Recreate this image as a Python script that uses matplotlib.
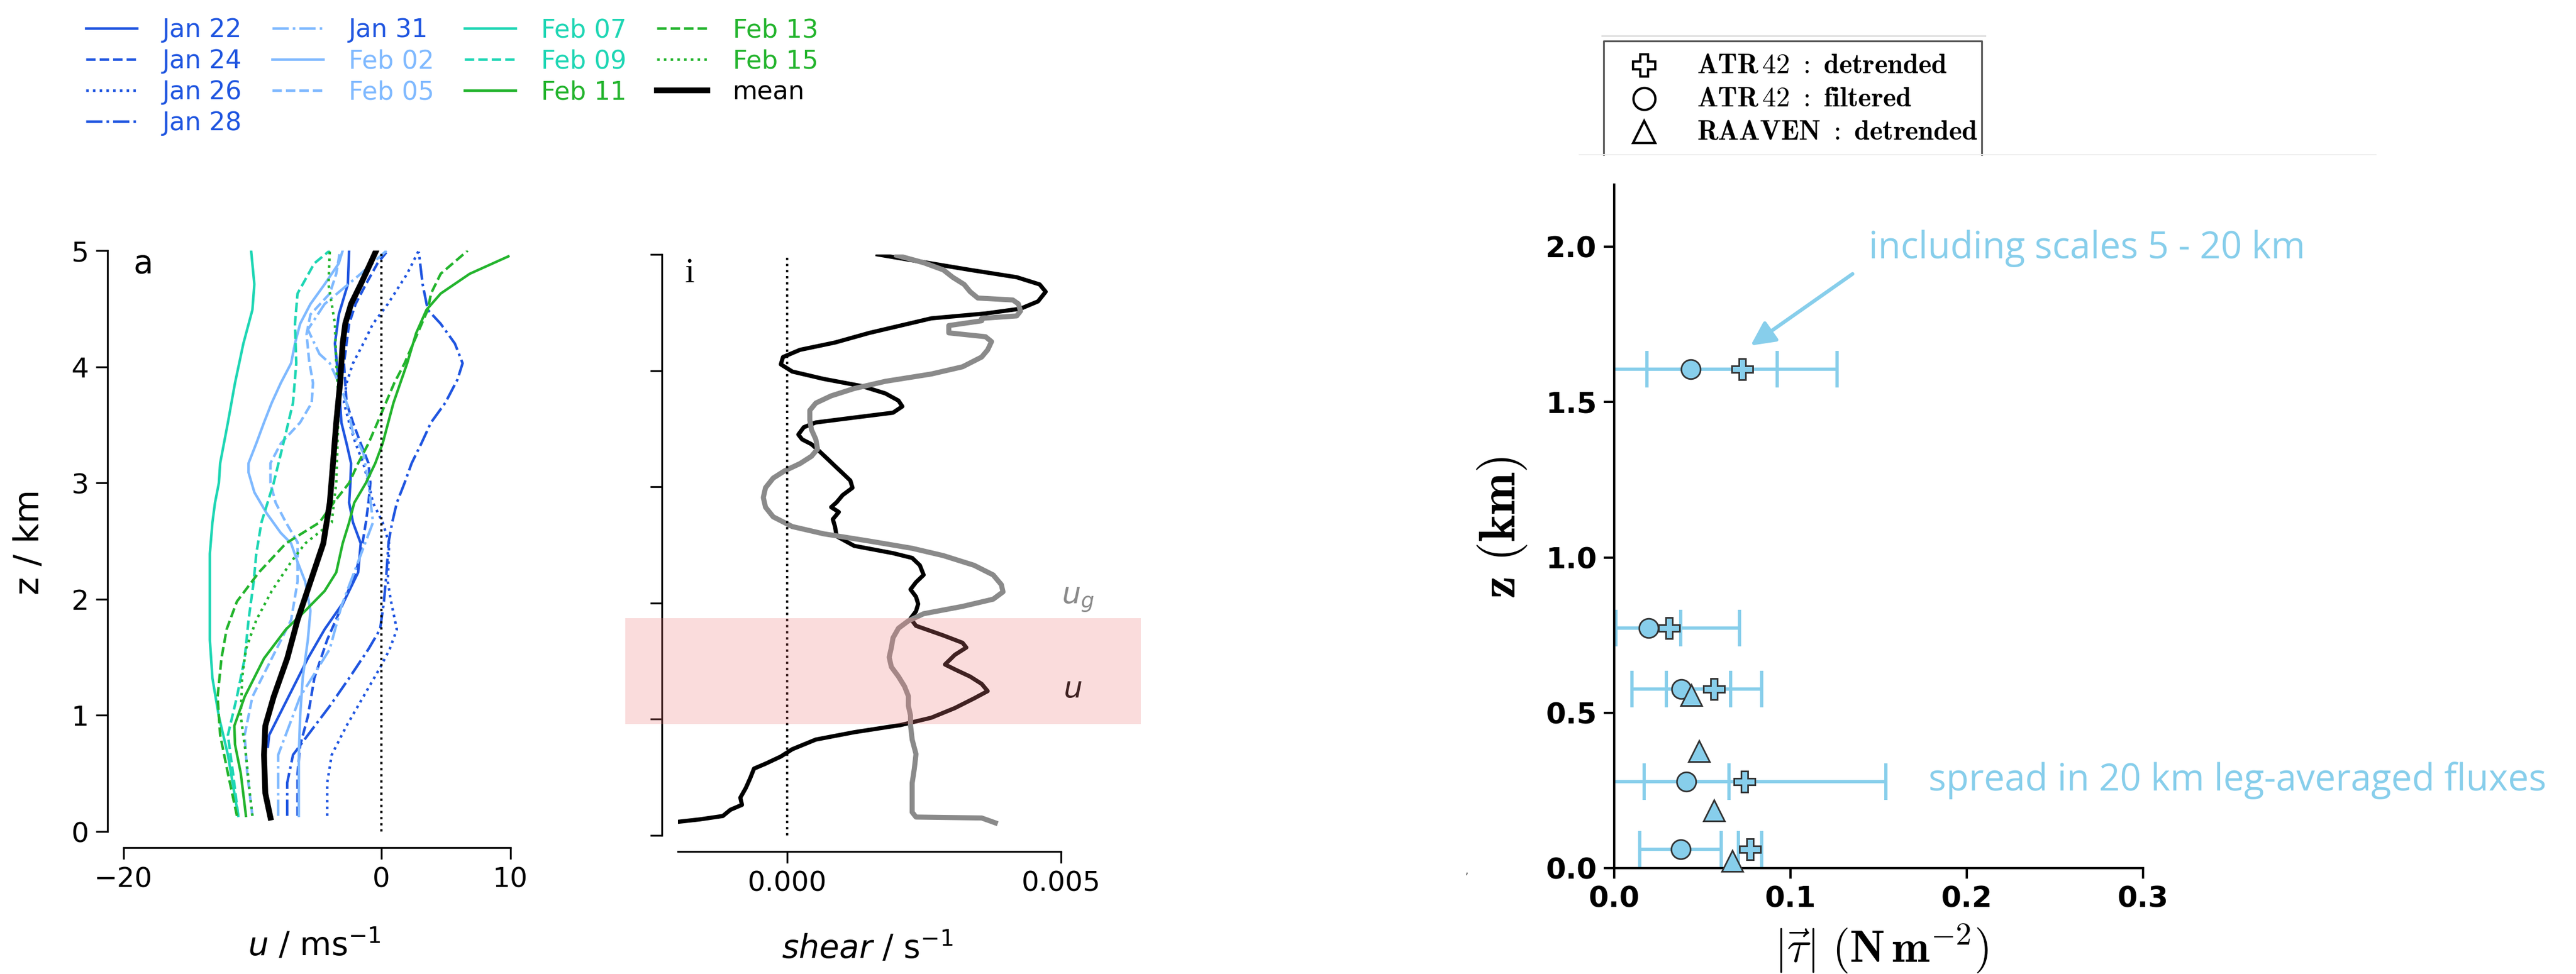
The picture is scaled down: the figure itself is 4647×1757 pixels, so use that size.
import matplotlib.pyplot as plt
from matplotlib.lines import Line2D
from matplotlib.patches import Rectangle
import matplotlib.transforms as mtransforms

plt.rcParams['font.family'] = 'DejaVu Sans'
plt.rcParams['mathtext.fontset'] = 'dejavusans'

# ---------------- panel a: u profiles (m/s) vs height (km) ----------------
jan22_z = [0.73, 0.83, 1.16, 1.49, 1.74, 1.98, 2.23, 2.48, 2.66, 2.83, 3.0, 3.17, 3.34, 3.52, 3.86, 4.2, 4.45, 4.71, 5.0]
jan22_u = [-8.8, -8.7, -7.2, -5.7, -4.4, -2.9, -1.8, -1.6, -2.2, -2.5, -2.4, -2.35, -2.7, -3.1, -3.3, -3.6, -3.3, -2.6, -2.5]

jan24_z = [0.135, 0.5, 0.74, 0.99, 1.32, 1.65, 1.98, 2.23, 2.39, 2.66, 2.83, 3.0, 3.17, 3.34, 3.52, 3.69, 4.03, 4.37, 4.54, 4.71, 4.89, 5.0]
jan24_u = [-6.5, -6.5, -6.3, -5.7, -5.2, -4.2, -2.9, -2.0, -1.6, -1.2, -1.0, -0.85, -1.0, -1.6, -2.2, -2.7, -2.9, -2.5, -2.0, -1.2, -0.3, 0.5]

jan26_z = [0.135, 0.42, 0.66, 0.91, 1.16, 1.41, 1.57, 1.74, 1.98, 2.15, 2.48, 2.66, 2.83, 3.0, 3.17, 3.34, 3.52, 3.69, 3.86, 4.03, 4.2, 4.37, 4.54, 4.8, 5.0]
jan26_u = [-4.2, -4.2, -3.85, -2.7, -1.4, -0.1, 0.65, 1.2, 0.75, 0.5, 0.6, 0.1, -0.65, -1.0, -1.4, -2.0, -2.5, -2.9, -2.7, -2.2, -1.4, -0.65, 0.5, 2.0, 2.9]

jan28_z = [0.135, 0.42, 0.66, 0.83, 1.08, 1.32, 1.57, 1.74, 1.98, 2.23, 2.49, 2.66, 2.83, 3.0, 3.17, 3.34, 3.52, 3.69, 3.89, 4.03, 4.2, 4.37, 4.49, 4.71, 4.99]
jan28_u = [-7.3, -7.3, -6.85, -5.7, -4.0, -2.5, -1.0, -0.1, 0.2, 0.4, 0.56, 0.84, 1.2, 1.8, 2.35, 3.1, 3.85, 4.96, 5.9, 6.3, 5.7, 4.6, 3.6, 3.2, 2.9]

jan31_z = [0.135, 0.66, 1.16, 1.57, 1.94, 2.66, 3.0, 3.26, 3.43, 3.69, 3.86, 4.03, 4.11, 4.32, 4.54, 4.8, 5.0]
jan31_u = [-8.0, -8.0, -6.3, -4.0, -3.1, -0.65, -1.0, -1.4, -2.2, -2.7, -3.3, -4.0, -4.8, -5.7, -4.4, -1.6, 0.4]

feb02_z = [0.135, 0.33, 0.66, 0.99, 1.32, 1.65, 1.9, 2.15, 2.32, 2.48, 2.57, 2.74, 2.92, 3.09, 3.17, 3.34, 3.52, 3.69, 3.86, 4.03, 4.2, 4.37, 4.54, 4.71, 4.89, 5.0]
feb02_u = [-6.4, -6.4, -6.4, -6.3, -6.1, -5.7, -5.5, -5.9, -6.5, -7.0, -7.8, -8.9, -9.85, -10.3, -10.3, -9.7, -9.1, -8.5, -7.8, -7.0, -6.7, -6.3, -5.5, -4.4, -3.3, -3.0]

feb05_z = [0.135, 0.5, 0.83, 1.16, 1.49, 1.82, 2.15, 2.49, 2.66, 2.83, 3.0, 3.17, 3.34, 3.52, 3.69, 3.86, 4.05, 4.28, 4.45, 4.63, 4.8, 5.0]
feb05_u = [-10.0, -10.4, -10.6, -10.0, -8.5, -7.0, -6.5, -6.5, -7.4, -8.2, -8.6, -8.6, -7.8, -6.3, -5.4, -5.3, -5.6, -5.8, -5.5, -4.0, -3.5, -3.2]

feb07_z = [0.135, 0.33, 0.66, 0.99, 1.32, 1.65, 1.98, 2.39, 2.66, 2.83, 3.0, 3.17, 3.52, 3.86, 4.2, 4.49, 4.71, 5.0]
feb07_u = [-11.1, -11.4, -11.9, -12.6, -13.1, -13.3, -13.3, -13.3, -13.1, -12.9, -12.6, -12.5, -11.9, -11.35, -10.7, -10.0, -9.85, -10.1]

feb09_z = [0.135, 0.5, 0.83, 1.16, 1.49, 1.82, 2.15, 2.39, 2.66, 3.0, 3.34, 3.69, 4.03, 4.37, 4.63, 4.89, 5.0]
feb09_u = [-11.1, -11.5, -11.9, -11.2, -10.6, -10.3, -9.9, -9.7, -9.3, -8.35, -7.6, -6.85, -6.6, -6.7, -6.5, -5.2, -4.0]

feb11_z = [0.135, 0.5, 0.75, 0.91, 1.16, 1.49, 1.74, 1.9, 2.07, 2.23, 2.48, 2.66, 2.83, 3.0, 3.17, 3.34, 3.69, 4.03, 4.29, 4.49, 4.63, 4.8, 4.95]
feb11_u = [-10.5, -10.9, -11.35, -11.4, -10.6, -9.1, -7.4, -5.9, -4.4, -3.5, -3.0, -2.5, -2.1, -1.2, -0.47, 0.1, 0.94, 2.0, 2.7, 3.5, 4.6, 6.85, 9.85]

feb13_z = [0.135, 0.5, 0.83, 1.16, 1.49, 1.74, 1.98, 2.23, 2.48, 2.66, 2.83, 3.0, 3.17, 3.34, 3.52, 3.86, 4.03, 4.49, 4.63, 4.8, 5.0]
feb13_u = [-11.2, -11.9, -12.5, -12.7, -12.4, -12.0, -11.2, -9.5, -7.4, -4.8, -3.7, -2.5, -1.8, -1.0, -0.3, 1.0, 1.8, 3.6, 3.85, 4.6, 6.7]

feb15_z = [0.135, 0.33, 0.66, 0.99, 1.32, 1.57, 1.82, 2.07, 2.32, 2.48, 2.66, 3.0, 3.34, 3.69, 4.03, 4.37, 4.71, 5.0]
feb15_u = [-10.0, -10.2, -10.5, -10.9, -10.8, -10.5, -9.7, -8.5, -7.0, -5.9, -3.85, -3.5, -3.4, -3.3, -3.5, -3.6, -4.1, -4.0]

mean_z = [0.12, 0.33, 0.66, 0.91, 1.16, 1.49, 1.82, 2.15, 2.48, 2.83, 3.17, 3.52, 3.86, 4.2, 4.37, 4.54, 4.71, 4.89, 5.0]
mean_u = [-8.6, -9.0, -9.1, -9.0, -8.35, -7.3, -6.5, -5.5, -4.5, -4.0, -3.75, -3.5, -3.2, -3.0, -2.8, -2.35, -1.6, -0.85, -0.4]

BLUE = '#1f55e0'
LIGHT = '#7fb9ff'
TURQ = '#1ed6b4'
GREEN = '#23b42d'

dates = ['Jan 22', 'Jan 24', 'Jan 26', 'Jan 28', 'Jan 31', 'Feb 02', 'Feb 05',
         'Feb 07', 'Feb 09', 'Feb 11', 'Feb 13', 'Feb 15']
profiles_z = [jan22_z, jan24_z, jan26_z, jan28_z, jan31_z, feb02_z, feb05_z,
              feb07_z, feb09_z, feb11_z, feb13_z, feb15_z]
profiles_u = [jan22_u, jan24_u, jan26_u, jan28_u, jan31_u, feb02_u, feb05_u,
              feb07_u, feb09_u, feb11_u, feb13_u, feb15_u]
line_colors = [BLUE, BLUE, BLUE, BLUE, LIGHT, LIGHT, LIGHT, TURQ, TURQ, GREEN, GREEN, GREEN]
text_colors = [BLUE, BLUE, BLUE, BLUE, BLUE, LIGHT, LIGHT, TURQ, TURQ, GREEN, GREEN, GREEN]
line_styles = ['-', '--', ':', '-.', '-.', '-', '--', '-', '--', '-', '--', ':']

# ---------------- panel i: shear profiles (1/s) ----------------
shear_u_z = [0.117, 0.138, 0.167, 0.221, 0.263, 0.325, 0.408, 0.492, 0.575, 0.617, 0.679, 0.742, 0.825,
             0.888, 0.95, 1.013, 1.096, 1.179, 1.242, 1.304, 1.367, 1.429, 1.471, 1.554, 1.617, 1.658,
             1.721, 1.804, 1.867, 1.929, 1.992, 2.054, 2.117, 2.179, 2.242, 2.325, 2.388, 2.429, 2.492,
             2.575, 2.658, 2.721, 2.783, 2.825, 2.867, 2.929, 2.992, 3.054, 3.117, 3.179, 3.242, 3.304,
             3.367, 3.408, 3.45, 3.513, 3.554, 3.596, 3.638, 3.692, 3.742, 3.804, 3.867, 3.929, 3.992,
             4.054, 4.117, 4.179, 4.242, 4.325, 4.388, 4.45, 4.492, 4.533, 4.596, 4.679, 4.742, 4.804,
             4.867, 4.95, 5.0]
shear_u = [-0.002, -0.0016, -0.00118, -0.00104, -0.00083, -0.00086, -0.00076, -0.00068, -0.00061,
           -0.0004, -0.00012, 0.00009, 0.00052, 0.00122, 0.00207, 0.00263, 0.00306, 0.00341, 0.00366,
           0.00355, 0.00334, 0.00306, 0.00288, 0.00306, 0.00327, 0.0032, 0.00285, 0.00235, 0.00225,
           0.00235, 0.00239, 0.00235, 0.00225, 0.00235, 0.00249, 0.00242, 0.00228, 0.00193, 0.00122,
           0.0009, 0.00087, 0.00083, 0.00094, 0.0008, 0.0009, 0.00101, 0.00119, 0.00115, 0.00101,
           0.00087, 0.00073, 0.00059, 0.00044, 0.00027, 0.0002, 0.0003, 0.00052, 0.00122, 0.00193,
           0.0021, 0.00203, 0.00179, 0.00136, 0.00066, 0.00009, -0.00012, -0.00008, 0.00023, 0.00087,
           0.0015, 0.00207, 0.00263, 0.00362, 0.00426, 0.00458, 0.00472, 0.00461, 0.00419, 0.00334,
           0.00228, 0.00165]

shear_ug_z = [0.108, 0.125, 0.15, 0.158, 0.2, 0.325, 0.45, 0.575, 0.7, 0.825, 0.95, 1.033, 1.117,
              1.2, 1.283, 1.367, 1.45, 1.533, 1.617, 1.7, 1.783, 1.846, 1.908, 1.971, 2.033, 2.096,
              2.158, 2.242, 2.325, 2.408, 2.471, 2.533, 2.596, 2.658, 2.742, 2.825, 2.908, 2.992,
              3.075, 3.138, 3.2, 3.263, 3.325, 3.408, 3.492, 3.575, 3.658, 3.721, 3.783, 3.846,
              3.908, 3.971, 4.033, 4.117, 4.179, 4.25, 4.292, 4.325, 4.388, 4.429, 4.45, 4.471,
              4.513, 4.575, 4.608, 4.625, 4.679, 4.742, 4.804, 4.867, 4.929, 4.992]
shear_ug = [0.0038, 0.0037, 0.00355, 0.00235, 0.00228, 0.00228, 0.00228, 0.00232, 0.00235, 0.00228,
            0.00225, 0.00225, 0.00221, 0.00221, 0.00214, 0.00203, 0.0019, 0.00186, 0.0019, 0.00193,
            0.00203, 0.00221, 0.00249, 0.0032, 0.00376, 0.00394, 0.00391, 0.00376, 0.00341, 0.00285,
            0.00228, 0.0015, 0.00066, 0.00009, -0.00026, -0.0004, -0.00044, -0.0004, -0.00026,
            -0.00005, 0.00023, 0.00044, 0.00055, 0.00052, 0.00044, 0.00041, 0.00041, 0.00052, 0.0008,
            0.00122, 0.00179, 0.00263, 0.0032, 0.00355, 0.00366, 0.00373, 0.00362, 0.00295, 0.00295,
            0.00355, 0.00355, 0.00419, 0.00426, 0.00422, 0.00412, 0.00348, 0.00334, 0.00323, 0.00302,
            0.00285, 0.00249, 0.002]

band_z = (0.96, 1.87)

# ---------------- right panel: momentum flux magnitude ----------------
leg_z = [1.605, 0.773, 0.576, 0.279, 0.060]
atr_detrended = [0.0725, 0.031, 0.0565, 0.074, 0.077]
atr_detrended_err = [0.054, 0.040, 0.027, 0.080, 0.0065]
atr_filtered = [0.0434, 0.0194, 0.038, 0.041, 0.0376]
atr_filtered_err = [0.049, 0.0183, 0.028, 0.024, 0.0232]
raaven_z = [0.556, 0.377, 0.185, 0.023]
raaven_tau = [0.0437, 0.048, 0.0565, 0.067]

SKY = '#87CEEB'

W, H = 4647, 1757
fig = plt.figure(figsize=(W / 300, H / 300), dpi=300)


def px_box(x0, y0, x1, y1):
    # pixel box (top-left origin) -> figure fraction rect
    return [x0 / W, 1 - y1 / H, (x1 - x0) / W, (y1 - y0) / H]


def style_profile_axis(ax):
    for s in ['top', 'right']:
        ax.spines[s].set_visible(False)
    for s in ['left', 'bottom']:
        ax.spines[s].set_position(('outward', 7))
        ax.spines[s].set_linewidth(0.8)
    ax.tick_params(length=5, width=0.8, labelsize=12, pad=3)


# panel a
ax_a = fig.add_axes(px_box(222.7, 452, 920.6, 1500))
handles = []
for z, u, c, ls, lab in zip(profiles_z, profiles_u, line_colors, line_styles, dates):
    h, = ax_a.plot(u, z, color=c, ls=ls, lw=1.1, label=lab)
    handles.append(h)
h, = ax_a.plot(mean_u, mean_z, color='k', lw=2.5, label='mean')
handles.append(h)
ax_a.axvline(0, color='k', ls=':', lw=1.0)
ax_a.set_xlim(-20, 10)
ax_a.set_ylim(0, 5)
ax_a.set_xticks([-20, 0, 10])
ax_a.set_yticks(range(6))
style_profile_axis(ax_a)
ax_a.text(0.025, 0.961, 'a', transform=ax_a.transAxes, fontsize=14, va='baseline')

fig.legend(handles=handles, ncol=4, loc='upper left',
           bbox_to_anchor=(155 / W, 1 - 32 / H), frameon=False, fontsize=11,
           handlelength=2.0, handletextpad=1.0, columnspacing=1.2,
           labelspacing=0.24, borderpad=0, borderaxespad=0,
           labelcolor=text_colors + ['k'])

fig.text(53 / W, 1 - 978 / H, 'z / km', rotation=90, ha='center', va='center', fontsize=15)
fig.text(567 / W, 1 - 1705 / H, r'$u$ / ms$^{-1}$', ha='center', va='center', fontsize=14)

# panel i
ax_i = fig.add_axes(px_box(1223, 459, 1914, 1507))
ax_i.plot(shear_u, shear_u_z, color='k', lw=1.8, zorder=2)
ax_i.plot(shear_ug, shear_ug_z, color='#8a8a8a', lw=2.2, zorder=2)
ax_i.axvline(0, color='k', ls=':', lw=1.0)
ax_i.set_xlim(-0.002, 0.005)
ax_i.set_ylim(0, 5)
ax_i.set_xticks([0, 0.005], labels=['0.000', '0.005'])
ax_i.set_yticks(range(6), labels=[])
style_profile_axis(ax_i)
band_tf = mtransforms.blended_transform_factory(ax_i.transAxes, ax_i.transData)
ax_i.add_patch(Rectangle((-0.138, band_z[0]), 1.346, band_z[1] - band_z[0],
                         transform=band_tf, facecolor='lightcoral', alpha=0.27,
                         edgecolor='none', clip_on=False, zorder=4))
ax_i.text(0.00531, 2.03, r'$u_g$', color='#8a8a8a', fontsize=13, ha='center', va='center')
ax_i.text(0.00521, 1.26, r'$u$', color='k', fontsize=13, ha='center', va='center', zorder=3)
ax_i.text(0.019, 0.952, 'i', transform=ax_i.transAxes, fontsize=15,
          family='Liberation Serif', va='baseline')
fig.text(1565 / W, 1 - 1710 / H, r'$shear$ / s$^{-1}$', ha='center', va='center', fontsize=14)

# right panel
ax_r = fig.add_axes(px_box(2912, 333, 3866, 1566))
ax_r.errorbar(atr_filtered, leg_z, xerr=atr_filtered_err, fmt='none', ecolor=SKY,
              elinewidth=1.4, capsize=8, capthick=1.4, zorder=2)
ax_r.errorbar(atr_detrended, leg_z, xerr=atr_detrended_err, fmt='none', ecolor=SKY,
              elinewidth=1.4, capsize=8, capthick=1.4, zorder=2)
ax_r.plot(atr_filtered, leg_z, 'o', ms=8.3, mfc=SKY, mec='#333333', mew=0.7, clip_on=False, zorder=4)
ax_r.plot(atr_detrended, leg_z, 'P', ms=9, mfc=SKY, mec='#333333', mew=0.7, clip_on=False, zorder=4)
ax_r.plot(raaven_tau, raaven_z, '^', ms=9, mfc=SKY, mec='#333333', mew=0.7, clip_on=False, zorder=4)
ax_r.set_xlim(0, 0.3)
ax_r.set_ylim(0, 2.2)
for s in ['top', 'right']:
    ax_r.spines[s].set_visible(False)
for s in ['left', 'bottom']:
    ax_r.spines[s].set_linewidth(1.0)
ax_r.set_xticks([0, 0.1, 0.2, 0.3], labels=['0.0', '0.1', '0.2', '0.3'], fontweight='bold')
ax_r.set_yticks([0, 0.5, 1.0, 1.5, 2.0], labels=['0.0', '0.5', '1.0', '1.5', '2.0'], fontweight='bold')
ax_r.tick_params(length=4.5, width=1.0, labelsize=12.5, pad=3)

ax_r.annotate('', xy=(0.0774, 1.682), xytext=(0.1352, 1.9125),
              arrowprops=dict(arrowstyle='-|>', color=SKY, lw=1.6,
                              mutation_scale=22, shrinkA=0, shrinkB=0))
ax_r.text(0.1443, 1.963, 'including scales 5 - 20 km', color=SKY, fontsize=16,
          family='Open Sans', va='baseline')
ax_r.text(0.1783, 0.25, 'spread in 20 km leg-averaged fluxes', color=SKY, fontsize=16,
          family='Open Sans', va='baseline')

fig.text(2710 / W, 1 - 952 / H, r'$\mathbf{z\ (km)}$', rotation=90, ha='center', va='center',
         fontsize=22, math_fontfamily='cm')
fig.text(3394 / W, 1 - 1712 / H, r'$|\vec{\tau}|\ (\mathbf{N\,m}^{-2})$', ha='center', va='center',
         fontsize=19.5, math_fontfamily='cm')

# legend box for the flux panel (bottom edge trimmed off)
def fig_line(xs, ys, **kw):
    fig.add_artist(Line2D([x / W for x in xs], [1 - y / H for y in ys],
                          transform=fig.transFigure, **kw))


fig_line([2890, 3582], [65, 65], color='#d0d0d0', lw=0.5)
fig_line([2893, 2893, 3575, 3575], [279, 74, 74, 279], color='#555555', lw=0.8)
fig_line([2849, 4286], [279, 279], color='#eeeeee', lw=0.5)

legend_markers = ['P', 'o', '^']
legend_labels = [r'$\mathbf{ATR}\,42\ :\ \mathbf{detrended}$',
                 r'$\mathbf{ATR}\,42\ :\ \mathbf{filtered}$',
                 r'$\mathbf{RAAVEN}\ :\ \mathbf{detrended}$']
for row_y, mk, lab in zip([117.6, 178, 238], legend_markers, legend_labels):
    fig_line([2966], [row_y], marker=mk, ms=9.5, mfc='white', mec='k', mew=1.0, ls='none')
    fig.text(3061 / W, 1 - row_y / H, lab, ha='left', va='center', fontsize=12,
             math_fontfamily='cm')

fig.text(2646 / W, 1 - 1571 / H, ',', fontsize=5, color='#555555', ha='center', va='center')

fig.savefig('out.png', dpi=300)
